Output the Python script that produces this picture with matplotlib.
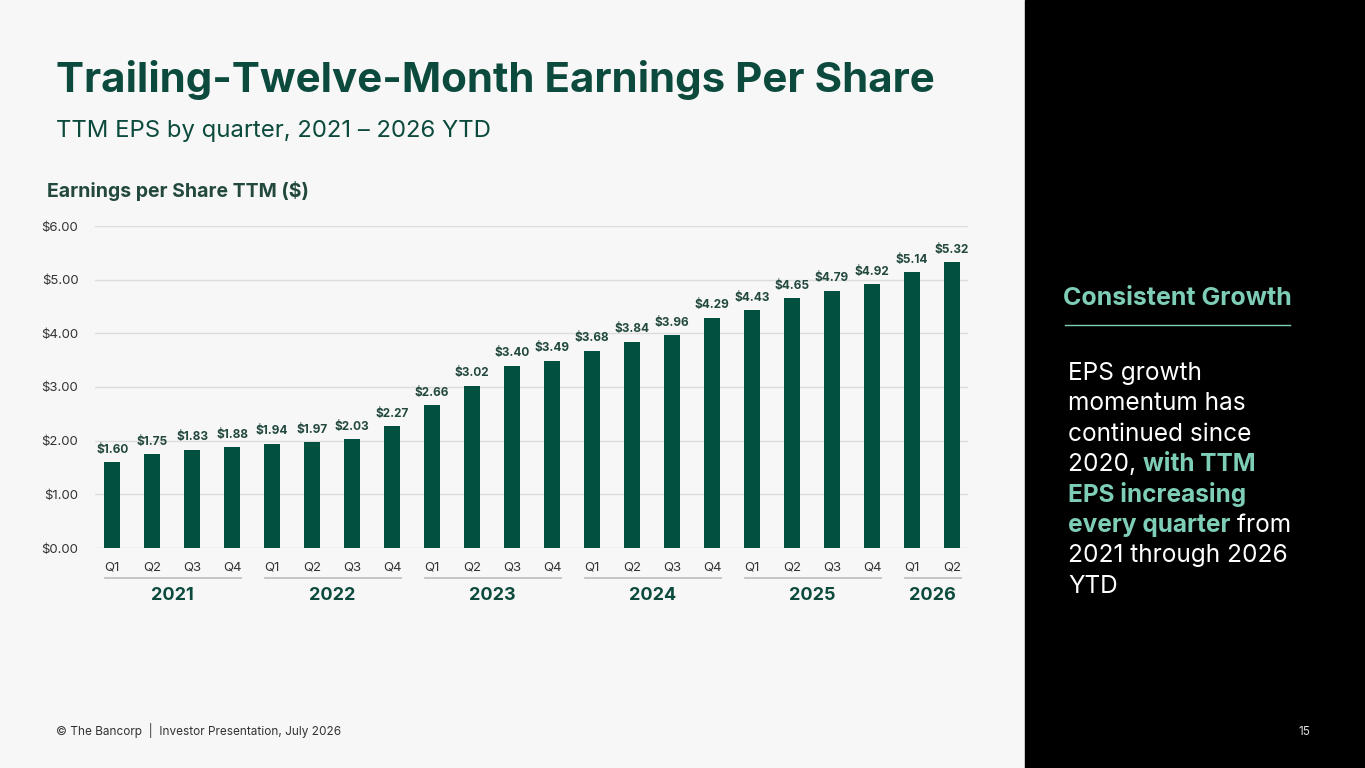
import matplotlib
matplotlib.use('Agg')
import matplotlib.pyplot as plt
import matplotlib.transforms as mtransforms
import numpy as np

W, H = 1365, 768

# ---- data ----
quarters = ['Q1', 'Q2', 'Q3', 'Q4'] * 5 + ['Q1', 'Q2']
eps_ttm  = [1.60, 1.75, 1.83, 1.88, 1.94, 1.97, 2.03, 2.27,
            2.66, 3.02, 3.40, 3.49, 3.68, 3.84, 3.96, 4.29,
            4.43, 4.65, 4.79, 4.92, 5.14, 5.32]
years          = ['2021', '2022', '2023', '2024', '2025', '2026']
quarters_count = [4, 4, 4, 4, 4, 2]
y_ticks        = [0, 1, 2, 3, 4, 5, 6]

# ---- colours ----
GREEN      = '#02503F'
TITLE_CLR  = '#0B4A3C'
LABEL_CLR  = '#23493F'
TEAL       = '#7DCDB7'
GRID_CLR   = '#DCDCDC'
TEXT_GRAY  = '#333333'

FONT = ['Inter', 'DejaVu Sans']
plt.rcParams['font.family'] = FONT


def fx(px):
    return px / W


def fy(py):
    return 1 - py / H


fig = plt.figure(figsize=(W / 100, H / 100), dpi=100)
fig.patch.set_facecolor('#F7F7F7')

# right-hand black panel
fig.patches.append(plt.Rectangle((fx(1025), 0), 1 - fx(1025), 1,
                                 transform=fig.transFigure, color='black', zorder=0))

# ---- chart ----
ax = fig.add_axes([fx(95), fy(548), fx(968) - fx(95), fy(226) - fy(548)])
ax.set_facecolor('none')

x = np.arange(len(eps_ttm))
ax.bar(x, eps_ttm, width=0.4, color=GREEN, zorder=3)

for xi, v in zip(x, eps_ttm):
    ax.text(xi, v + 0.12, f'${v:.2f}', ha='center', va='bottom',
            fontsize=8.5, fontweight='bold', color=LABEL_CLR, zorder=4)

ax.set_xlim(-0.43, 21.4)
ax.set_ylim(0, 6)
ax.set_yticks(y_ticks)
ax.set_yticklabels([f'${t:.2f}' for t in y_ticks])
ax.set_xticks(x)
ax.set_xticklabels(quarters)
ax.tick_params(axis='both', length=0, labelsize=9.5, labelcolor=TEXT_GRAY)
ax.tick_params(axis='x', pad=10)
ax.tick_params(axis='y', pad=12)
ax.grid(axis='y', color=GRID_CLR, linewidth=1, zorder=0)
for s in ax.spines.values():
    s.set_visible(False)

# year groups under the quarter labels
trans = mtransforms.blended_transform_factory(ax.transData, ax.transAxes)
start = 0
for yr, n in zip(years, quarters_count):
    first, last = start, start + n - 1
    ax.plot([first - 0.18, last + 0.22], [-0.093, -0.093], transform=trans,
            color='#BDBDBD', linewidth=1.2, clip_on=False)
    ax.text((first + last) / 2, -0.148, yr, transform=trans, ha='center', va='center',
            fontsize=13, fontweight='bold', color=TITLE_CLR)
    start += n

# ---- titles ----
fig.text(fx(56), fy(92), 'Trailing-Twelve-Month Earnings Per Share',
         fontsize=30.3, fontweight='bold', color=TITLE_CLR, va='baseline')
fig.text(fx(56), fy(137), 'TTM EPS by quarter, 2021 \u2013 2026 YTD',
         fontsize=17.2, color=TITLE_CLR, va='baseline')
fig.text(fx(47), fy(197), 'Earnings per Share TTM ($)',
         fontsize=14, fontweight='bold', color=LABEL_CLR, va='baseline')

# ---- right panel text ----
fig.text(fx(1063), fy(305), 'Consistent Growth',
         fontsize=18, fontweight='bold', color=TEAL, va='baseline')
fig.add_artist(plt.Line2D([fx(1065), fx(1290)], [fy(325), fy(325)],
                          transform=fig.transFigure, color=TEAL, linewidth=1))

body = [
    [('EPS growth', False)],
    [('momentum has', False)],
    [('continued since', False)],
    [('2020, ', False), ('with TTM', True)],
    [('EPS increasing', True)],
    [('every quarter', True), (' from', False)],
    [('2021 through 2026', False)],
    [('YTD', False)],
]

renderer = fig.canvas.get_renderer()
for i, line in enumerate(body):
    xpos = fx(1068)
    ypos = fy(380 + 30.4 * i)
    for seg, hl in line:
        t = fig.text(xpos, ypos, seg, fontsize=17.6, va='baseline',
                     color=TEAL if hl else 'white',
                     fontweight='bold' if hl else 'normal')
        bb = t.get_window_extent(renderer=renderer)
        xpos += bb.width / W

# ---- footer ----
fig.text(fx(56), fy(735), '\u00a9 The Bancorp  |  Investor Presentation, July 2026',
         fontsize=8.5, color=TEXT_GRAY, va='baseline')
fig.text(fx(1310), fy(735), '15', fontsize=8.5, color='#DDDDDD', va='baseline', ha='right')

fig.savefig('out.png', dpi=100, facecolor=fig.get_facecolor())
